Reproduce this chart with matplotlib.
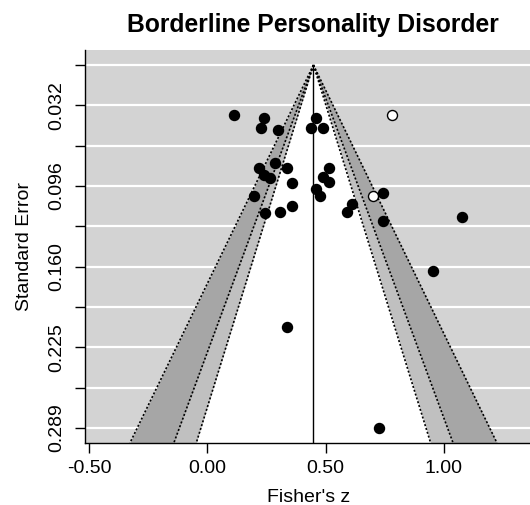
import numpy as np
import matplotlib
matplotlib.use("Agg")
import matplotlib.pyplot as plt

plt.rcParams["font.family"] = ["Liberation Sans", "DejaVu Sans"]

# observed studies (Fisher's z, standard error)
obs_z = [0.113, 0.238, 0.228, 0.298, 0.461, 0.438, 0.489,
         0.217, 0.288, 0.336, 0.238, 0.266, 0.357, 0.515, 0.489,
         0.515, 0.461, 0.478, 0.196, 0.742, 0.357, 0.245, 0.309,
         0.610, 0.591, 0.742, 1.079, 0.954, 0.336, 0.728]
obs_se = [0.040, 0.042, 0.050, 0.052, 0.042, 0.050, 0.050,
          0.082, 0.078, 0.082, 0.088, 0.090, 0.094, 0.082, 0.089,
          0.093, 0.099, 0.104, 0.104, 0.102, 0.112, 0.118, 0.117,
          0.111, 0.117, 0.124, 0.121, 0.164, 0.209, 0.289]

# imputed (trim-and-fill) studies
fill_z = [0.780, 0.699]
fill_se = [0.040, 0.104]

estimate = 0.449
levels = [99, 95, 90]
crit = {99: 2.576, 95: 1.960, 90: 1.645}
shades = {99: "#a6a6a6", 95: "#c0c0c0", 90: "white"}

y_ticks = [0.0, 0.0321, 0.0643, 0.0964, 0.1286, 0.1607, 0.1929, 0.2250, 0.2571, 0.2893]
y_labels = ["", "0.032", "", "0.096", "", "0.160", "", "0.225", "", "0.289"]
x_ticks = [-0.5, 0.0, 0.5, 1.0]
x_labels = ["-0.50", "0.00", "0.50", "1.00"]

ylim_bottom = 0.3013
ylim_top = -0.012

fig = plt.figure(figsize=(5.3, 5.05), dpi=100)
ax = fig.add_axes([0.160, 0.1228, 0.845, 0.7782])
ax.set_facecolor("#d3d3d3")

for t in y_ticks:
    ax.axhline(t, color="white", lw=1.6, zorder=1)

se_grid = np.array([0.0, ylim_bottom])
for lev in levels:
    c = crit[lev]
    ax.fill_betweenx(
        se_grid,
        estimate - c * se_grid,
        estimate + c * se_grid,
        color=shades[lev],
        lw=0,
        zorder=2
    )
for lev in levels:
    c = crit[lev]
    for sgn in (-1, 1):
        ax.plot(
            estimate + sgn * c * se_grid,
            se_grid,
            color="black",
            ls=(0, (1.2, 1.2)),
            lw=1.2,
            zorder=3
        )

ax.plot([estimate, estimate], [0.0, ylim_bottom], color="black", lw=1.0, zorder=3)

ax.scatter(obs_z, obs_se, s=52, color="black", zorder=5)
ax.scatter(fill_z, fill_se, s=52, facecolor="white", edgecolor="black", lw=1.0, zorder=5)

ax.set_xlim(-0.518, 1.376)
ax.set_ylim(ylim_bottom, ylim_top)

ax.set_yticks(y_ticks)
ax.set_yticklabels(y_labels, rotation=90, va="center", fontsize=14)
ax.set_xticks(x_ticks)
ax.set_xticklabels(x_labels, fontsize=14)
ax.tick_params(axis="both", length=7, width=1.0, color="black")
ax.tick_params(axis="x", pad=5)
ax.tick_params(axis="y", pad=7)

ax.spines["top"].set_visible(False)
ax.spines["right"].set_visible(False)
ax.spines["left"].set_linewidth(1.0)
ax.spines["bottom"].set_linewidth(1.0)

ax.set_xlabel("Fisher's z", fontsize=14, labelpad=9)
ax.set_ylabel("Standard Error", fontsize=14, labelpad=11)
fig.text(0.5896, 0.9366, "Borderline Personality Disorder",
         ha="center", va="baseline", fontsize=17.8, fontweight="bold")

fig.savefig("out.png", dpi=100)
